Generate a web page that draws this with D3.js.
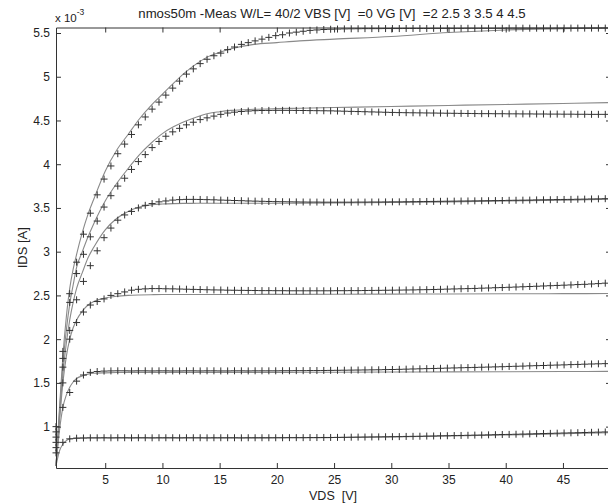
<!DOCTYPE html>
<html>
<head>
<meta charset="utf-8">
<script src="https://cdnjs.cloudflare.com/ajax/libs/d3/7.8.5/d3.min.js"></script>
<style>
    body { margin: 0; background: #fff; }
    svg { display: block; font-family: "Liberation Sans", Arial, Helvetica, sans-serif; }
</style>
</head>
<body>
<svg id="chart" width="608" height="504"></svg>
<script>
// measured sweep (VDS in V)
var vdsMeas = [
    0.7, 1.3, 1.9, 2.5, 3.1, 3.7, 4.3, 4.9, 5.5, 6.1,
    6.7, 7.3, 7.9, 8.5, 9.1, 9.7, 10.3, 10.9, 11.5, 12.1,
    12.7, 13.3, 13.9, 14.5, 15.1, 15.7, 16.3, 16.9, 17.5, 18.1,
    18.7, 19.3, 19.9, 20.5, 21.1, 21.7, 22.3, 22.9, 23.5, 24.1,
    24.7, 25.3, 25.9, 26.5, 27.1, 27.7, 28.3, 28.9, 29.5, 30.1,
    30.7, 31.3, 31.9, 32.5, 33.1, 33.7, 34.3, 34.9, 35.5, 36.1,
    36.7, 37.3, 37.9, 38.5, 39.1, 39.7, 40.3, 40.9, 41.5, 42.1,
    42.7, 43.3, 43.9, 44.5, 45.1, 45.7, 46.3, 46.9, 47.5, 48.1,
    48.7
];

// measured IDS (x 1e-3 A), one list per VG
var measVG2 = [
    0.70, 0.82, 0.86, 0.868, 0.87, 0.872, 0.872, 0.873, 0.872, 0.873,
    0.873, 0.872, 0.873, 0.873, 0.872, 0.873, 0.873, 0.873, 0.872, 0.873,
    0.873, 0.873, 0.872, 0.873, 0.873, 0.873, 0.873, 0.872, 0.873, 0.873,
    0.873, 0.873, 0.873, 0.873, 0.874, 0.874, 0.874, 0.875, 0.875, 0.876,
    0.876, 0.877, 0.878, 0.879, 0.88, 0.881, 0.882, 0.883, 0.884, 0.885,
    0.886, 0.888, 0.889, 0.89, 0.892, 0.893, 0.895, 0.896, 0.898, 0.899,
    0.901, 0.903, 0.904, 0.906, 0.908, 0.91, 0.911, 0.913, 0.915, 0.917,
    0.919, 0.921, 0.923, 0.925, 0.927, 0.929, 0.931, 0.933, 0.935, 0.937,
    0.939
];
var measVG25 = [
    0.76, 1.22, 1.39, 1.52, 1.59, 1.62, 1.63, 1.635, 1.637, 1.638,
    1.638, 1.637, 1.638, 1.638, 1.637, 1.638, 1.638, 1.637, 1.637, 1.638,
    1.638, 1.637, 1.638, 1.638, 1.637, 1.637, 1.638, 1.638, 1.637, 1.638,
    1.638, 1.638, 1.638, 1.639, 1.639, 1.64, 1.64, 1.641, 1.641, 1.642,
    1.643, 1.644, 1.645, 1.646, 1.647, 1.648, 1.649, 1.65, 1.652, 1.653,
    1.655, 1.657, 1.659, 1.661, 1.663, 1.665, 1.667, 1.669, 1.671, 1.673,
    1.675, 1.677, 1.679, 1.681, 1.683, 1.685, 1.688, 1.69, 1.692, 1.695,
    1.697, 1.699, 1.702, 1.704, 1.706, 1.709, 1.711, 1.714, 1.716, 1.718,
    1.72
];
var measVG3 = [
    0.82, 1.50, 2.00, 2.19, 2.31, 2.39, 2.43, 2.46, 2.50, 2.52,
    2.54, 2.56, 2.57, 2.575, 2.578, 2.578, 2.576, 2.575, 2.573, 2.571,
    2.569, 2.567, 2.565, 2.563, 2.562, 2.56, 2.559, 2.558, 2.557, 2.556,
    2.555, 2.555, 2.554, 2.554, 2.553, 2.553, 2.553, 2.553, 2.553, 2.553,
    2.553, 2.554, 2.554, 2.555, 2.555, 2.556, 2.557, 2.558, 2.559, 2.56,
    2.561, 2.562, 2.563, 2.565, 2.566, 2.568, 2.57, 2.572, 2.574, 2.576,
    2.578, 2.58, 2.583, 2.585, 2.588, 2.59, 2.593, 2.596, 2.599, 2.602,
    2.605, 2.608, 2.611, 2.614, 2.617, 2.62, 2.624, 2.627, 2.631, 2.635,
    2.64
];
var measVG35 = [
    0.88, 1.68, 2.10, 2.45, 2.66, 2.84, 3.01, 3.16, 3.27, 3.36,
    3.42, 3.46, 3.50, 3.53, 3.55, 3.57, 3.58, 3.59, 3.595, 3.598,
    3.598, 3.597, 3.595, 3.593, 3.59, 3.588, 3.585, 3.583, 3.58, 3.578,
    3.576, 3.574, 3.572, 3.571, 3.57, 3.569, 3.568, 3.567, 3.567, 3.566,
    3.566, 3.566, 3.566, 3.566, 3.567, 3.567, 3.568, 3.568, 3.569, 3.57,
    3.57, 3.571, 3.572, 3.573, 3.574, 3.575, 3.576, 3.577, 3.578, 3.579,
    3.58, 3.581, 3.582, 3.583, 3.584, 3.585, 3.587, 3.588, 3.589, 3.59,
    3.592, 3.593, 3.594, 3.596, 3.597, 3.598, 3.6, 3.601, 3.603, 3.604,
    3.606
];
var measVG4 = [
    0.94, 1.78, 2.42, 2.75, 2.97, 3.17, 3.35, 3.51, 3.64, 3.75,
    3.84, 3.94, 4.03, 4.11, 4.19, 4.26, 4.32, 4.37, 4.41, 4.45,
    4.48, 4.51, 4.53, 4.55, 4.57, 4.585, 4.595, 4.603, 4.608, 4.612,
    4.614, 4.615, 4.616, 4.616, 4.616, 4.615, 4.614, 4.613, 4.612, 4.611,
    4.61, 4.608, 4.606, 4.604, 4.602, 4.6, 4.598, 4.596, 4.594, 4.592,
    4.59, 4.589, 4.588, 4.587, 4.586, 4.585, 4.584, 4.583, 4.582, 4.581,
    4.58, 4.579, 4.578, 4.578, 4.577, 4.577, 4.576, 4.576, 4.575, 4.575,
    4.574, 4.574, 4.573, 4.573, 4.572, 4.572, 4.571, 4.571, 4.57, 4.57,
    4.57
];
var measVG45 = [
    1.0, 1.86, 2.52, 2.88, 3.20, 3.44, 3.65, 3.83, 3.98, 4.12,
    4.23, 4.34, 4.45, 4.54, 4.63, 4.71, 4.79, 4.87, 4.95, 5.03,
    5.09, 5.15, 5.20, 5.24, 5.27, 5.31, 5.34, 5.37, 5.39, 5.41,
    5.43, 5.45, 5.47, 5.48, 5.50, 5.51, 5.52, 5.53, 5.535, 5.54,
    5.543, 5.545, 5.547, 5.548, 5.549, 5.55, 5.55, 5.55, 5.551, 5.551,
    5.551, 5.552, 5.552, 5.552, 5.552, 5.553, 5.553, 5.553, 5.553, 5.553,
    5.554, 5.554, 5.554, 5.554, 5.554, 5.554, 5.555, 5.555, 5.555, 5.555,
    5.555, 5.555, 5.555, 5.556, 5.556, 5.556, 5.556, 5.556, 5.556, 5.556,
    5.556
];

// model curves (solid lines)
var vdsFit = [0.7, 1.0, 1.3, 1.6, 1.9, 2.2, 2.5, 3, 3.5, 4, 5, 6, 7, 8, 9, 10, 11, 12, 13, 14, 15, 16, 18, 20, 22, 25, 30, 35, 40, 45, 49.2];
var fitVG2 = [0.55, 0.72, 0.80, 0.84, 0.86, 0.865, 0.868, 0.87, 0.87, 0.87, 0.87, 0.87, 0.87, 0.87, 0.87, 0.87, 0.87, 0.87, 0.87, 0.87, 0.87, 0.87, 0.871, 0.872, 0.873, 0.875, 0.882, 0.892, 0.904, 0.918, 0.93];
var fitVG25 = [0.55, 0.95, 1.22, 1.36, 1.45, 1.51, 1.55, 1.58, 1.60, 1.61, 1.615, 1.618, 1.62, 1.62, 1.62, 1.62, 1.62, 1.62, 1.62, 1.62, 1.62, 1.62, 1.62, 1.62, 1.621, 1.622, 1.624, 1.626, 1.628, 1.63, 1.632];
var fitVG3 = [0.55, 1.05, 1.50, 1.80, 2.00, 2.13, 2.22, 2.32, 2.39, 2.43, 2.47, 2.49, 2.50, 2.505, 2.508, 2.51, 2.51, 2.51, 2.51, 2.51, 2.51, 2.51, 2.511, 2.512, 2.512, 2.513, 2.515, 2.517, 2.519, 2.52, 2.522];
var fitVG35 = [0.55, 1.10, 1.60, 1.95, 2.22, 2.42, 2.58, 2.76, 2.93, 3.05, 3.25, 3.38, 3.46, 3.51, 3.535, 3.545, 3.55, 3.552, 3.553, 3.553, 3.553, 3.553, 3.553, 3.554, 3.555, 3.557, 3.562, 3.57, 3.58, 3.59, 3.60];
var fitVG4 = [0.55, 1.15, 1.70, 2.10, 2.40, 2.62, 2.82, 3.00, 3.17, 3.32, 3.58, 3.78, 3.95, 4.11, 4.24, 4.35, 4.43, 4.49, 4.54, 4.58, 4.60, 4.615, 4.628, 4.635, 4.64, 4.648, 4.66, 4.672, 4.683, 4.694, 4.705];
var fitVG45 = [0.55, 1.2, 1.8, 2.25, 2.58, 2.80, 2.97, 3.22, 3.43, 3.60, 3.92, 4.16, 4.34, 4.52, 4.67, 4.80, 4.93, 5.05, 5.15, 5.23, 5.28, 5.32, 5.37, 5.39, 5.41, 5.43, 5.46, 5.505, 5.535, 5.55, 5.56];

var xTicks = [5, 10, 15, 20, 25, 30, 35, 40, 45];
var yTicks = [1, 1.5, 2, 2.5, 3, 3.5, 4, 4.5, 5, 5.5];

var titleText = "nmos50m -Meas W/L= 40/2 VBS [V]  =0 VG [V]  =2 2.5 3 3.5 4 4.5";

var measured = [measVG2, measVG25, measVG3, measVG35, measVG4, measVG45];
var fitted = [fitVG2, fitVG25, fitVG3, fitVG35, fitVG4, fitVG45];

var plotLeft = 56, plotRight = 611, plotTop = 27.5, plotBottom = 468;

var x = d3.scaleLinear().domain([0.7, 49.2]).range([plotLeft, plotRight]);
var y = d3.scaleLinear().domain([0.527, 5.563]).range([plotBottom, plotTop]);

var svg = d3.select("#chart");

// model lines
var line = d3.line()
    .x(function(d) { return x(d[0]); })
    .y(function(d) { return y(d[1]); })
    .curve(d3.curveMonotoneX);

svg.append("g")
    .selectAll("path")
    .data(fitted)
    .enter()
    .append("path")
    .attr("d", function(s) { return line(s.map(function(v, i) { return [vdsFit[i], v]; })); })
    .attr("fill", "none")
    .attr("stroke", "#8a8a8a")
    .attr("stroke-width", 1.1);

// measured points as '+'
var pts = [];
measured.forEach(function(s) {
    s.forEach(function(v, i) { pts.push([vdsMeas[i], v]); });
});

svg.append("g")
    .selectAll("path")
    .data(pts)
    .enter()
    .append("path")
    .attr("transform", function(d) { return "translate(" + x(d[0]) + "," + y(d[1]) + ")"; })
    .attr("d", "M-3.5,0H3.5M0,-3.5V3.5")
    .attr("fill", "none")
    .attr("stroke", "#333")
    .attr("stroke-width", 1);

// axes box, ticks inward
function styleAxis(g) {
    g.attr("font-family", null);
    g.selectAll(".domain").attr("stroke", "#333");
    g.selectAll(".tick line").attr("stroke", "#333");
    g.selectAll(".tick text").attr("fill", "#222").style("font-size", "12px");
}

svg.append("g")
    .attr("transform", "translate(0," + plotBottom + ")")
    .call(d3.axisBottom(x).tickValues(xTicks).tickSizeInner(-5).tickSizeOuter(0).tickPadding(7))
    .call(styleAxis);

svg.append("g")
    .attr("transform", "translate(0," + plotTop + ")")
    .call(d3.axisTop(x).tickValues(xTicks).tickSizeInner(-5).tickSizeOuter(0).tickFormat(""))
    .call(styleAxis);

svg.append("g")
    .attr("transform", "translate(" + plotLeft + ",0)")
    .call(d3.axisLeft(y).tickValues(yTicks).tickSizeInner(-5).tickSizeOuter(0).tickPadding(6).tickFormat(d3.format("")))
    .call(styleAxis);

svg.append("g")
    .attr("transform", "translate(" + plotRight + ",0)")
    .call(d3.axisRight(y).tickValues(yTicks).tickSizeInner(-5).tickSizeOuter(0).tickFormat(""))
    .call(styleAxis);

// texts
svg.append("text")
    .attr("x", 332)
    .attr("y", 18)
    .attr("text-anchor", "middle")
    .style("font-size", "13.2px")
    .style("white-space", "pre")
    .attr("fill", "#222")
    .text(titleText);

var expo = svg.append("text")
    .attr("x", 55)
    .attr("y", 22)
    .style("font-size", "11.5px")
    .attr("fill", "#222");
expo.append("tspan").text("x 10");
expo.append("tspan").attr("dy", -7).style("font-size", "8.5px").text("-3");

svg.append("text")
    .attr("x", 333)
    .attr("y", 500)
    .attr("text-anchor", "middle")
    .style("font-size", "12.5px")
    .style("white-space", "pre")
    .attr("fill", "#222")
    .text("VDS  [V]");

svg.append("text")
    .attr("transform", "translate(27," + ((plotTop + plotBottom) / 2) + ") rotate(-90)")
    .attr("text-anchor", "middle")
    .style("font-size", "13px")
    .style("white-space", "pre")
    .attr("fill", "#222")
    .text("IDS [A]");
</script>
</body>
</html>
